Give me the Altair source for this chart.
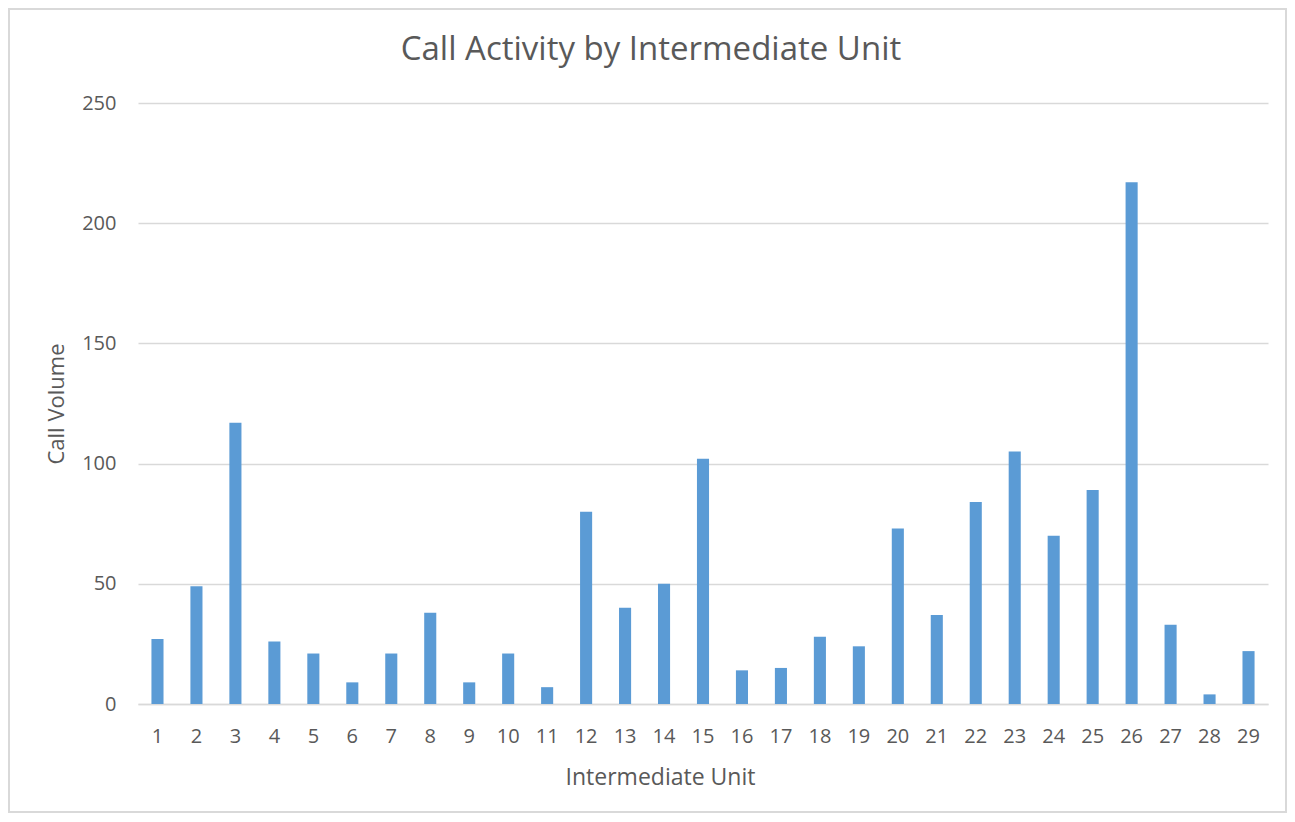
import altair as alt
import pandas as pd

units = list(range(1, 30))
calls = [27, 49, 117, 26, 21, 9, 21, 38, 9, 21, 7, 80, 40, 50, 102,
         14, 15, 28, 24, 73, 37, 84, 105, 70, 89, 217, 33, 4, 22]
y_ticks = [0, 50, 100, 150, 200, 250]
chart_title = "Call Activity by Intermediate Unit"

df = pd.DataFrame({"unit": units, "calls": calls})
FONT = "Open Sans"
GREY = "#595959"

bars = alt.Chart(df).mark_bar(color="#5B9BD5").encode(
    x=alt.X("unit:O", title="Intermediate Unit",
            scale=alt.Scale(paddingInner=0.69, paddingOuter=0.345),
            axis=alt.Axis(labelAngle=0, labelFont=FONT, labelFontSize=20,
                          labelColor=GREY, labelPadding=22, ticks=False,
                          domainColor="#D9D9D9", domainWidth=1.5,
                          titleFont=FONT, titleFontSize=23, titleColor=GREY,
                          titleFontWeight="normal", titlePadding=20,
                          titleX=522)),
    y=alt.Y("calls:Q", title="Call Volume",
            scale=alt.Scale(domain=[0, 250], nice=False),
            axis=alt.Axis(values=y_ticks, labelFont=FONT, labelFontSize=20,
                          labelColor=GREY, labelPadding=22, ticks=False,
                          domain=False, gridColor="#D9D9D9", gridWidth=1.5,
                          titleFont=FONT, titleFontSize=22, titleColor=GREY,
                          titleFontWeight="normal", titlePadding=13)),
)

border = alt.Chart(pd.DataFrame({"a": [0]})).mark_rect(
    fill="transparent", stroke="#D9D9D9", strokeWidth=2
).encode(
    x=alt.value(-129), x2=alt.value(1148), y=alt.value(-94), y2=alt.value(709)
)

title = alt.Chart(pd.DataFrame({"t": [chart_title]})).mark_text(
    font=FONT, fontSize=33, color=GREY, align="center", baseline="middle"
).encode(
    text="t:N", x=alt.value(513), y=alt.value(-53)
)

chart = alt.layer(border, bars, title).properties(
    width=1130, height=601,
    autosize=alt.AutoSizeParams(type="none"),
    padding={"left": 130, "top": 95, "right": 19, "bottom": 110},
).configure_view(stroke=None)

chart.save("out.html", embed_options={"renderer": "svg", "actions": False})
